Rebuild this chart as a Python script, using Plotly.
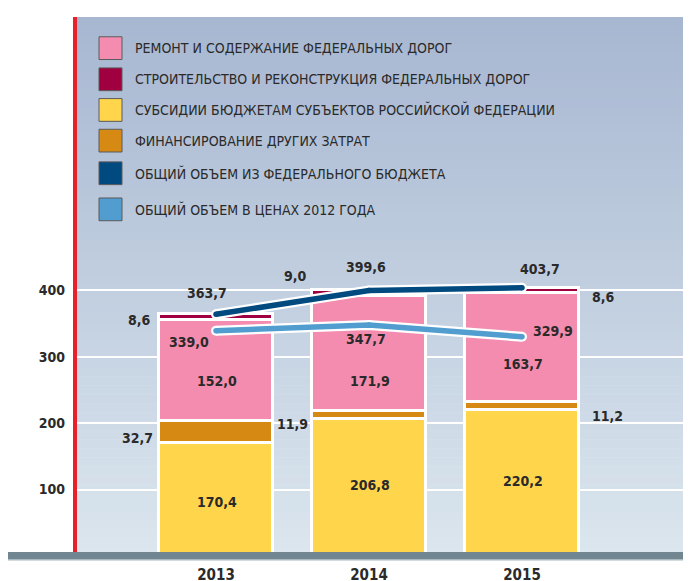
import plotly.graph_objects as go

# ---------------- data ----------------
years = ["2013", "2014", "2015"]
series_names = [
    "РЕМОНТ И СОДЕРЖАНИЕ ФЕДЕРАЛЬНЫХ ДОРОГ",
    "СТРОИТЕЛЬСТВО И РЕКОНСТРУКЦИЯ ФЕДЕРАЛЬНЫХ ДОРОГ",
    "СУБСИДИИ БЮДЖЕТАМ СУБЪЕКТОВ РОССИЙСКОЙ ФЕДЕРАЦИИ",
    "ФИНАНСИРОВАНИЕ ДРУГИХ ЗАТРАТ",
    "ОБЩИЙ ОБЪЕМ ИЗ ФЕДЕРАЛЬНОГО БЮДЖЕТА",
    "ОБЩИЙ ОБЪЕМ В ЦЕНАХ 2012 ГОДА",
]
repair = [152.0, 171.9, 163.7]
construction = [8.6, 9.0, 8.6]
subsidies = [170.4, 206.8, 220.2]
other = [32.7, 11.9, 11.2]
total_federal = [363.7, 399.6, 403.7]
total_2012_prices = [339.0, 347.7, 329.9]
y_ticks = [100, 200, 300, 400]

# ---------------- style ----------------
C_PINK = "#f38cae"
C_DRED = "#a0003f"
C_YEL = "#ffd54c"
C_ORA = "#d68a14"
C_DBLUE = "#004a80"
C_LBLUE = "#519dd0"
TXT = "#2a2a2a"
FONT = "Liberation Sans Narrow, DejaVu Sans Condensed, Roboto, sans-serif"

OFF_X, OFF_Y = 8, 5.5  # page offset of the figure inside the window
WIN_W, WIN_H = 691, 581
W, H = WIN_W - OFF_X, WIN_H - OFF_Y
PLOT_LEFT_WIN, PLOT_TOP_WIN, PLOT_BOTTOM_WIN = 77, 14, 559
ML = PLOT_LEFT_WIN - OFF_X
MT = PLOT_TOP_WIN - OFF_Y
MB = WIN_H - PLOT_BOTTOM_WIN
MR = 0
PW, PH = W - ML - MR, H - MT - MB
PX_PER_UNIT = 0.672
X_PX_PER_CAT = 153.0
X0_PX = 216.0
XR = [(PLOT_LEFT_WIN - X0_PX) / X_PX_PER_CAT, (WIN_W - X0_PX) / X_PX_PER_CAT]
YR = [0, PH / PX_PER_UNIT]


def px_to_paper_x(px):
    return (px - PLOT_LEFT_WIN) / PW


def px_to_paper_y(py):
    return (PLOT_BOTTOM_WIN - py) / PH


xs = list(range(len(years)))
fig = go.Figure()

bar_line = dict(color="white", width=3.5)
for vals, col, nm in [(subsidies, C_YEL, series_names[2]),
                      (other, C_ORA, series_names[3]),
                      (repair, C_PINK, series_names[0]),
                      (construction, C_DRED, series_names[1])]:
    fig.add_trace(go.Bar(x=xs, y=vals, name=nm, width=0.74,
                         marker=dict(color=col, line=bar_line),
                         showlegend=False, hoverinfo="skip"))

for vals, col, nm in [(total_federal, C_DBLUE, series_names[4]),
                      (total_2012_prices, C_LBLUE, series_names[5])]:
    fig.add_trace(go.Scatter(x=xs, y=vals, mode="lines+markers",
                             line=dict(color="white", width=10),
                             marker=dict(color="white", size=10, line=dict(width=0)),
                             showlegend=False, hoverinfo="skip"))
    fig.add_trace(go.Scatter(x=xs, y=vals, mode="lines+markers", name=nm,
                             line=dict(color=col, width=5.5),
                             marker=dict(color=col, size=5.5, line=dict(width=0)),
                             showlegend=False, hoverinfo="skip"))

# ---------------- value labels ----------------
ann = []
VAL_SIZE = 14


def lab(i, yv, text, dx, dy):
    ann.append(dict(x=xs[i], y=yv, xref="x", yref="y", text=text, showarrow=False,
                    xshift=dx, yshift=dy,
                    font=dict(family=FONT, size=VAL_SIZE, color=TXT, weight="bold")))


def fmt(v):
    return f"{v:.1f}".replace(".", ",")


pink_shift = [-10, -27, -16]
dred_pos = [(-77, -3), (-74, 17), (81, -6)]
ora_pos = [(-79, -6), (-77, -9), (85, -10)]
fed_pos = [(-9, 21), (-3, 23), (18, 19)]
p12_pos = [(-27, -11), (-3, -14), (31, 6)]
for i in xs:
    lab(i, subsidies[i] / 2, fmt(subsidies[i]), 1, -3 if i == 0 else 2)
    base_p = subsidies[i] + other[i]
    lab(i, base_p + repair[i] / 2, fmt(repair[i]), 1, pink_shift[i])
    base_d = base_p + repair[i]
    lab(i, base_d + construction[i] / 2, fmt(construction[i]), *dred_pos[i])
    lab(i, subsidies[i] + other[i] / 2, fmt(other[i]), *ora_pos[i])
    lab(i, total_federal[i], fmt(total_federal[i]), *fed_pos[i])
    lab(i, total_2012_prices[i], fmt(total_2012_prices[i]), *p12_pos[i])

# ---------------- legend (manual) ----------------
legend_cols = [C_PINK, C_DRED, C_YEL, C_ORA, C_DBLUE, C_LBLUE]
legend_rows_px = [45.5, 77, 108, 139, 172, 208.5]
shapes = []
for nm, col, cy in zip(series_names, legend_cols, legend_rows_px):
    shapes.append(dict(type="rect", xref="paper", yref="paper",
                       x0=px_to_paper_x(99), x1=px_to_paper_x(122),
                       y0=px_to_paper_y(cy + 11.5), y1=px_to_paper_y(cy - 11.5),
                       fillcolor=col, line=dict(color="#5a5a5a", width=1), layer="above"))
    ann.append(dict(x=px_to_paper_x(133), y=px_to_paper_y(cy), xref="paper", yref="paper",
                    xanchor="left", yanchor="middle", text=nm, showarrow=False,
                    font=dict(family=FONT, size=14, color=TXT)))

# ---------------- background gradient ----------------
top = (0xa7, 0xb7, 0xd1)
bot = (0xdb, 0xe6, 0xee)
N = 60
for k in range(N):
    t = (k + 0.5) / N
    c = tuple(round(top[j] + (bot[j] - top[j]) * t) for j in range(3))
    shapes.append(dict(type="rect", xref="paper", yref="paper",
                       x0=0, x1=1, y0=1 - (k + 1) / N - 0.001, y1=1 - k / N,
                       fillcolor="rgb(%d,%d,%d)" % c, line=dict(width=0), layer="below"))

# red vertical line
shapes.append(dict(type="line", xref="paper", yref="paper",
                   x0=px_to_paper_x(75), x1=px_to_paper_x(75),
                   y0=px_to_paper_y(557), y1=1,
                   line=dict(color="#e8202a", width=4), layer="above"))
# gray baseline bar
shapes.append(dict(type="rect", xref="paper", yref="paper",
                   x0=px_to_paper_x(8), x1=1,
                   y0=px_to_paper_y(562), y1=px_to_paper_y(555),
                   fillcolor="#718690", line=dict(width=0), layer="above"))
shapes.append(dict(type="rect", xref="paper", yref="paper",
                   x0=px_to_paper_x(8), x1=1,
                   y0=px_to_paper_y(563.5), y1=px_to_paper_y(562),
                   fillcolor="#a9b8bf", line=dict(width=0), layer="above"))

fig.update_layout(
    width=W, height=H,
    margin=dict(l=ML, r=MR, t=MT, b=MB, pad=0),
    paper_bgcolor="white", plot_bgcolor="rgba(0,0,0,0)",
    barmode="stack", bargap=0,
    showlegend=False,
    shapes=shapes, annotations=ann,
    font=dict(family=FONT, color=TXT),
    xaxis=dict(range=XR, tickvals=xs, ticktext=years, showgrid=False, zeroline=False,
               showline=False, ticks="", ticklabelstandoff=8,
               tickfont=dict(family=FONT, size=15, color=TXT, weight="bold"), fixedrange=True),
    yaxis=dict(range=YR, tickvals=y_ticks, showgrid=True, gridcolor="white", gridwidth=1.5,
               zeroline=False, showline=False, ticks="", ticklabelstandoff=11,
               tickfont=dict(family=FONT, size=14, color=TXT, weight="bold"), fixedrange=True),
)

fig.write_html("out.html")
